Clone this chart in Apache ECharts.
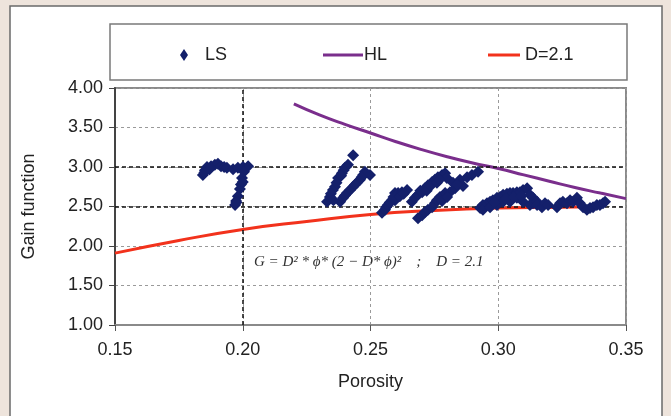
<!DOCTYPE html>
<html>
<head>
<meta charset="utf-8">
<script src="https://cdn.jsdelivr.net/npm/echarts@6/dist/echarts.min.js"></script>
<style>
  html, body { margin: 0; padding: 0; background: #eee4dc; }
  #main { width: 671px; height: 416px; }
</style>
</head>
<body>
<div id="main"></div>
<script>
// x tick labels / y tick labels
const xTicks = [0.15, 0.2, 0.25, 0.3, 0.35];
const yTicks = [1, 1.5, 2, 2.5, 3, 3.5, 4];

// LS measured points, [porosity, gain]
const lsPoints = [
  // group near 0.19-0.20
  [0.1844, 2.90], [0.1852, 2.96], [0.1860, 3.00], [0.1876, 3.01], [0.1891, 3.03],
  [0.1903, 3.04], [0.1915, 3.01], [0.1927, 3.00], [0.1938, 2.99], [0.1962, 2.97],
  [0.1981, 2.99], [0.2001, 3.00], [0.2021, 3.01], [0.2005, 2.94], [0.1997, 2.86],
  [0.1993, 2.78], [0.1989, 2.72], [0.1981, 2.63], [0.1974, 2.57], [0.1970, 2.52],
  [0.1850, 2.93], [0.1870, 2.97], [0.1975, 2.55], [0.2000, 2.81],
  // group near 0.24
  [0.2330, 2.56], [0.2341, 2.62], [0.2353, 2.71], [0.2361, 2.75], [0.2373, 2.86],
  [0.2388, 2.92], [0.2400, 2.99], [0.2412, 3.03], [0.2432, 3.15],
  [0.2381, 2.56], [0.2393, 2.61], [0.2408, 2.67], [0.2420, 2.71], [0.2432, 2.75],
  [0.2447, 2.80], [0.2459, 2.84], [0.2471, 2.90], [0.2478, 2.94], [0.2498, 2.90],
  [0.2345, 2.66], [0.2367, 2.80], [0.2395, 2.96], [0.2400, 2.64], [0.2440, 2.78],
  [0.2465, 2.87], [0.2355, 2.58], [0.2385, 2.89],
  // group 0.25-0.29
  [0.2545, 2.42], [0.2557, 2.46], [0.2561, 2.49], [0.2568, 2.52], [0.2584, 2.58],
  [0.2596, 2.58], [0.2596, 2.67], [0.2608, 2.67], [0.2623, 2.68], [0.2643, 2.71],
  [0.2575, 2.55], [0.2590, 2.62], [0.2615, 2.63], [0.2630, 2.66],
  [0.2662, 2.56], [0.2674, 2.61], [0.2686, 2.65], [0.2702, 2.68], [0.2713, 2.73],
  [0.2725, 2.77], [0.2741, 2.81], [0.2752, 2.84], [0.2764, 2.87], [0.2780, 2.90],
  [0.2792, 2.92], [0.2799, 2.86], [0.2695, 2.70], [0.2720, 2.70], [0.2735, 2.76],
  [0.2760, 2.80], [0.2770, 2.84],
  [0.2686, 2.35], [0.2702, 2.39], [0.2713, 2.43], [0.2725, 2.46], [0.2741, 2.49],
  [0.2752, 2.54], [0.2772, 2.62], [0.2792, 2.67], [0.2811, 2.68], [0.2831, 2.73],
  [0.2760, 2.58], [0.2780, 2.57], [0.2800, 2.62],
  [0.2823, 2.80], [0.2850, 2.84], [0.2862, 2.76], [0.2878, 2.87], [0.2897, 2.90],
  [0.2921, 2.94], [0.2840, 2.78],
  // group 0.29-0.34
  [0.2929, 2.48], [0.2940, 2.52], [0.2940, 2.46], [0.2956, 2.54], [0.2968, 2.56],
  [0.2968, 2.49], [0.2979, 2.58], [0.2995, 2.61], [0.2995, 2.52], [0.3007, 2.62],
  [0.3019, 2.65], [0.3019, 2.56], [0.3034, 2.66], [0.3046, 2.67], [0.3046, 2.56],
  [0.3058, 2.67], [0.3073, 2.68], [0.3073, 2.61], [0.3085, 2.68], [0.3097, 2.71],
  [0.3097, 2.56], [0.3113, 2.73], [0.3124, 2.65], [0.3124, 2.52], [0.3136, 2.61],
  [0.3136, 2.54], [0.3152, 2.56], [0.3152, 2.52], [0.3171, 2.49], [0.3183, 2.54],
  [0.3030, 2.60], [0.3060, 2.62], [0.3090, 2.63], [0.2985, 2.55],
  [0.3195, 2.52], [0.3230, 2.49], [0.3242, 2.54], [0.3253, 2.56], [0.3269, 2.54],
  [0.3281, 2.58], [0.3293, 2.56], [0.3308, 2.61], [0.3320, 2.54], [0.3332, 2.49],
  [0.3347, 2.46], [0.3359, 2.48], [0.3371, 2.49], [0.3386, 2.52], [0.3398, 2.52],
  [0.3410, 2.54], [0.3418, 2.56]
];

// HL curve
const hlX = [0.22, 0.23, 0.24, 0.25, 0.26, 0.27, 0.28, 0.29, 0.30, 0.31, 0.32, 0.33, 0.34, 0.35];
const hlY = [3.80, 3.66, 3.54, 3.43, 3.32, 3.22, 3.13, 3.05, 2.98, 2.90, 2.82, 2.74, 2.67, 2.60];

// D=2.1 curve
const dX = [0.15, 0.175, 0.20, 0.225, 0.25, 0.275, 0.30, 0.325, 0.34];
const dY = [1.91, 2.07, 2.21, 2.31, 2.40, 2.45, 2.48, 2.49, 2.50];

const font = "'Liberation Sans', Arial, sans-serif";
const fmt = (v) => v.toFixed(2);

var myChart = echarts.init(document.getElementById("main"));

var option = {
  animation: false,
  backgroundColor: "#eee4dc",
  textStyle: { fontFamily: font },
  graphic: [
    {
      type: "rect",
      z: -10,
      shape: { x: 10, y: 6, width: 652, height: 420 },
      style: { fill: "#ffffff", stroke: "#6a6a6a", lineWidth: 1.5 },
    },
    {
      type: "rect",
      z: -9,
      shape: { x: 110, y: 24, width: 517, height: 56 },
      style: { fill: "#ffffff", stroke: "#7a7a7a", lineWidth: 1.5 },
    },
    {
      type: "text",
      left: 254,
      top: 255,
      style: {
        text: "G = D² * ϕ* (2 − D* ϕ)²    ;    D = 2.1",
        font: "italic 15px 'Liberation Serif', 'DejaVu Serif', serif",
        fill: "#333",
      },
    },
  ],
  legend: [
    {
      data: [{ name: "LS", icon: "diamond" }],
      left: 175,
      top: 41,
      itemWidth: 8,
      itemHeight: 12,
      textStyle: { fontSize: 18, color: "#222", fontFamily: font, padding: [0, 0, 0, 12] },
    },
    {
      data: [{ name: "HL", icon: "rect" }],
      left: 318,
      top: 41,
      itemWidth: 40,
      itemHeight: 3,
      textStyle: { fontSize: 18, color: "#222", fontFamily: font, padding: [0, 0, 0, -4] },
    },
    {
      data: [{ name: "D=2.1", icon: "rect" }],
      left: 483,
      top: 41,
      itemWidth: 32,
      itemHeight: 3,
      textStyle: { fontSize: 18, color: "#222", fontFamily: font },
    },
  ],
  grid: {
    left: 115,
    right: 45,
    top: 88,
    bottom: 91,
    show: true,
    borderColor: "#8a8a8a",
    borderWidth: 2,
  },
  xAxis: {
    type: "value",
    min: xTicks[0],
    max: xTicks[xTicks.length - 1],
    interval: 0.05,
    name: "Porosity",
    nameLocation: "middle",
    nameGap: 48,
    nameTextStyle: { fontSize: 18, color: "#222", fontFamily: font },
    axisLine: { lineStyle: { color: "#8a8a8a", width: 2 } },
    axisTick: { show: true, length: 6, lineStyle: { color: "#555" } },
    axisLabel: { formatter: fmt, fontSize: 18, color: "#222", margin: 16, fontFamily: font },
    splitLine: { show: true, lineStyle: { type: [3, 3], color: "#9a9a9a", width: 1 } },
  },
  yAxis: {
    type: "value",
    min: yTicks[0],
    max: yTicks[yTicks.length - 1],
    interval: 0.5,
    name: "Gain function",
    nameLocation: "middle",
    nameGap: 77,
    nameTextStyle: { fontSize: 18, color: "#222", fontFamily: font },
    axisLine: { show: true, lineStyle: { color: "#444", width: 2 } },
    axisTick: { show: true, length: 6, lineStyle: { color: "#444" } },
    axisLabel: { formatter: fmt, fontSize: 18, color: "#222", margin: 12, fontFamily: font },
    splitLine: { show: true, lineStyle: { type: [3, 3], color: "#9a9a9a", width: 1 } },
  },
  series: [
    {
      name: "LS",
      type: "scatter",
      symbol: "diamond",
      symbolSize: 12,
      z: 5,
      itemStyle: { color: "#14206b", opacity: 1 },
      data: lsPoints,
    },
    {
      name: "HL",
      type: "line",
      showSymbol: false,
      symbol: "none",
      smooth: true,
      z: 3,
      lineStyle: { color: "#7a2e8c", width: 3 },
      itemStyle: { color: "#7a2e8c" },
      data: hlX.map((x, i) => [x, hlY[i]]),
      markLine: {
        silent: true,
        symbol: "none",
        label: { show: false },
        lineStyle: { color: "#111", type: [4, 3], width: 1.5 },
        data: [{ yAxis: 2.5 }, { yAxis: 3 }, { xAxis: 0.2 }],
      },
    },
    {
      name: "D=2.1",
      type: "line",
      showSymbol: false,
      symbol: "none",
      smooth: true,
      z: 4,
      lineStyle: { color: "#f2321c", width: 3 },
      itemStyle: { color: "#f2321c" },
      data: dX.map((x, i) => [x, dY[i]]),
    },
  ],
};

option && myChart.setOption(option);
</script>
</body>
</html>
